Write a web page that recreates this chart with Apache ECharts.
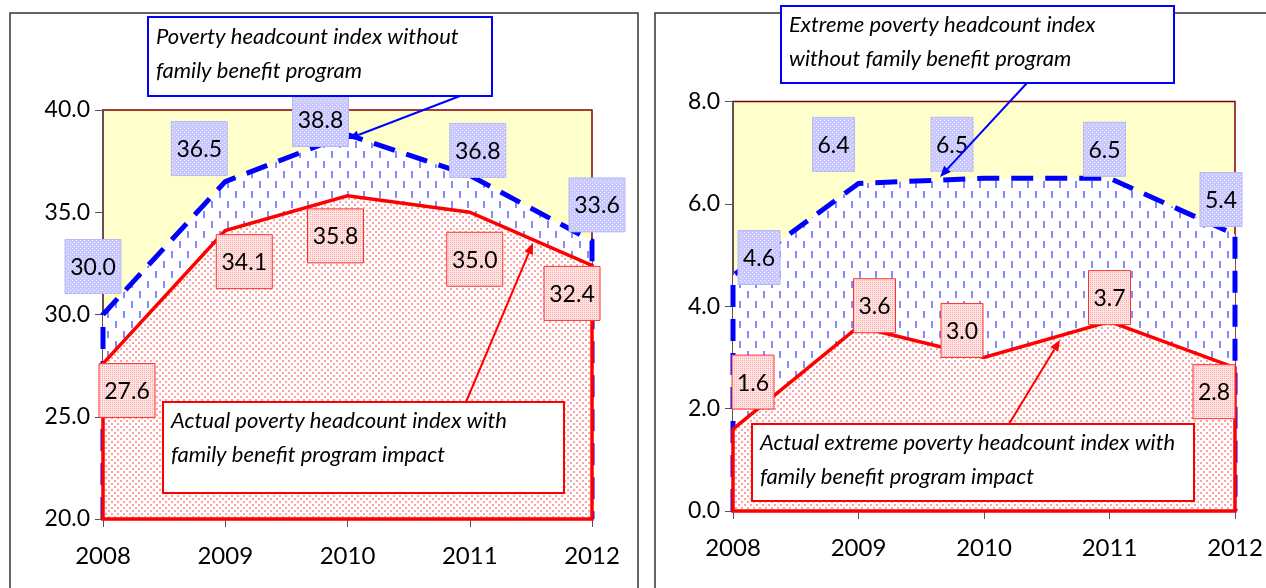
<!DOCTYPE html>
<html>
<head>
<meta charset="utf-8">
<script src="https://cdn.jsdelivr.net/npm/echarts@6/dist/echarts.min.js"></script>
<style>
  html, body { margin: 0; padding: 0; background: #fff; }
  #chart { width: 1266px; height: 588px; }
</style>
</head>
<body>
<div id="chart"></div>
<script>
  const years = ['2008', '2009', '2010', '2011', '2012']
  // poverty headcount index (left)
  const povertyWithout = [30.0, 36.5, 38.8, 36.8, 33.6]
  const povertyActual = [27.6, 34.1, 35.8, 35.0, 32.4]
  // extreme poverty headcount index (right)
  const extremeWithout = [4.6, 6.4, 6.5, 6.5, 5.4]
  const extremeActual = [1.6, 3.6, 3.0, 3.7, 2.8]

  // hand-placed label boxes, offset from the point in px
  const povWithoutOff = [[-10, -48], [-26, -33], [-27, -15], [8, -25], [5, -36]]
  const povActualOff = [[24, 27], [19, 31], [-12, 40], [5, 47], [-20, 28]]
  const extWithoutOff = [[26, -18], [-25, -39], [-32, -34], [-5, -29], [-14, -35]]
  const extActualOff = [[20, -47], [16, -21], [-22, -27], [0, -24], [-21, 24]]

  const yMin = [20, 0]

  function tile(w, h, bg, draw) {
    const c = document.createElement('canvas')
    c.width = w
    c.height = h
    const g = c.getContext('2d')
    g.fillStyle = bg
    g.fillRect(0, 0, w, h)
    draw(g)
    return { image: c, repeat: 'repeat' }
  }

  const blueFill = tile(16, 20, '#ffffff', g => {
    g.fillStyle = '#8a8aff'
    g.fillRect(3, 1, 2, 7)
    g.fillRect(11, 11, 2, 7)
  })
  const redFill = tile(6, 6, '#ffffff', g => {
    g.fillStyle = '#ffa0a0'
    g.fillRect(0, 0, 2, 2)
    g.fillRect(3, 3, 2, 2)
  })
  const blueBox = tile(4, 4, '#c8c8ff', g => {
    g.fillStyle = '#f4f4ff'
    g.fillRect(0, 0, 1, 1)
    g.fillRect(2, 2, 1, 1)
  })
  const redBox = tile(2, 2, '#ffe4e4', g => {
    g.fillStyle = '#ffa8a8'
    g.fillRect(0, 0, 1, 1)
  })

  // filled area down to the axis min, outlined on top and both sides
  function areaSeries(k, vals, fill, stroke, dash, width, closeBottom) {
    return {
      type: 'custom',
      xAxisIndex: k,
      yAxisIndex: k,
      silent: true,
      clip: false,
      data: vals.map((v, i) => [i, v]),
      renderItem(params, api) {
        if (params.dataIndex !== 0) return null
        const pts = [api.coord([0, yMin[k]])]
        vals.forEach((v, i) => pts.push(api.coord([i, v])))
        pts.push(api.coord([vals.length - 1, yMin[k]]))
        return {
          type: 'group',
          children: [
            { type: 'polygon', shape: { points: pts }, style: { fill: fill } },
            { type: closeBottom ? 'polygon' : 'polyline', shape: { points: pts },
              style: { fill: 'none', stroke: stroke, lineWidth: width, lineDash: dash, lineJoin: 'miter' } }
          ]
        }
      }
    }
  }

  function labelSeries(k, vals, off, bg, border) {
    return {
      type: 'custom',
      xAxisIndex: k,
      yAxisIndex: k,
      silent: true,
      clip: false,
      z: 10,
      data: vals.map((v, i) => [i, v]),
      renderItem(params, api) {
        const i = params.dataIndex
        const p = api.coord([api.value(0), api.value(1)])
        const txt = api.value(1).toFixed(1)
        const w = txt.length * 14
        const h = 54
        const cx = p[0] + off[i][0]
        const cy = p[1] + off[i][1]
        return {
          type: 'group',
          children: [
            { type: 'rect', shape: { x: cx - w / 2, y: cy - h / 2, width: w, height: h },
              style: { fill: bg, stroke: border, lineWidth: 1 } },
            { type: 'text', style: { x: cx, y: cy + 1, text: txt, align: 'center', verticalAlign: 'middle',
              font: '23px Lato', fill: '#000' } }
          ]
        }
      }
    }
  }

  function arrow(x1, y1, x2, y2, color) {
    const a = Math.atan2(y2 - y1, x2 - x1)
    const L = 11, W = 4.5
    const bx = x2 - L * Math.cos(a), by = y2 - L * Math.sin(a)
    return [
      { type: 'line', z: 100, shape: { x1: x1, y1: y1, x2: bx, y2: by }, style: { stroke: color, lineWidth: 2 } },
      { type: 'polygon', z: 100, shape: { points: [[x2, y2],
          [bx + W * Math.sin(a), by - W * Math.cos(a)], [bx - W * Math.sin(a), by + W * Math.cos(a)]] },
        style: { fill: color } }
    ]
  }

  function callout(x, y, w, h, color, text, ty) {
    return [
      { type: 'rect', z: 100, shape: { x: x, y: y, width: w, height: h },
        style: { fill: '#fff', stroke: color, lineWidth: 2 } },
      { type: 'text', z: 101, x: x + 8, y: ty,
        style: { text: text, font: 'italic 22px Lato', fill: '#000', lineHeight: 34 } }
    ]
  }

  function xAxis(k) {
    return {
      type: 'category',
      gridIndex: k,
      data: years,
      boundaryGap: false,
      axisLine: { lineStyle: { color: '#555', width: 1.5 } },
      axisTick: { show: true, length: 8, lineStyle: { color: '#555' } },
      axisLabel: { interval: 0, fontSize: 24, fontFamily: 'Lato', color: '#000', margin: 25 }
    }
  }

  function yAxis(k, min, max, step) {
    return {
      type: 'value',
      gridIndex: k,
      min: min,
      max: max,
      interval: step,
      axisLine: { show: true, lineStyle: { color: '#555', width: 1.5 } },
      axisTick: { show: true, length: 8, lineStyle: { color: '#555' } },
      splitLine: { show: false },
      axisLabel: { fontSize: 23, fontFamily: 'Lato', color: '#000', margin: 13,
        formatter: v => v.toFixed(1) }
    }
  }

  const chart = echarts.init(document.getElementById('chart'))
  chart.setOption({
    animation: false,
    grid: [
      { left: 103, top: 110, width: 489, height: 409, show: true,
        backgroundColor: '#ffffcc', borderColor: '#800000', borderWidth: 1.5 },
      { left: 733, top: 101.5, width: 502, height: 409.5, show: true,
        backgroundColor: '#ffffcc', borderColor: '#800000', borderWidth: 1.5 }
    ],
    xAxis: [xAxis(0), xAxis(1)],
    yAxis: [yAxis(0, 20, 40, 5), yAxis(1, 0, 8, 2)],
    graphic: [
      { type: 'rect', shape: { x: 10, y: 13, width: 628, height: 600 },
        style: { fill: 'none', stroke: '#333', lineWidth: 1.5 } },
      { type: 'rect', shape: { x: 655, y: 13, width: 700, height: 600 },
        style: { fill: 'none', stroke: '#333', lineWidth: 1.5 } },
      ...callout(148, 17, 344, 79, '#0000ff', 'Poverty headcount index without\nfamily benefit program', 20),
      ...arrow(460, 96, 348, 139, '#0000ff'),
      ...callout(163, 402, 401, 91, '#ff0000', 'Actual poverty headcount index with\nfamily benefit program impact', 404),
      ...arrow(466, 402, 533, 243, '#ff0000'),
      ...callout(781, 6, 393, 77, '#0000ff', 'Extreme poverty headcount index\nwithout family benefit program', 8),
      ...arrow(1027, 83, 940, 177, '#0000ff'),
      ...callout(752, 424, 442, 77, '#ff0000', 'Actual extreme poverty headcount index with\nfamily benefit program impact', 426),
      ...arrow(1009, 424, 1060, 340, '#ff0000')
    ],
    series: [
      areaSeries(0, povertyWithout, blueFill, '#0000ff', [22, 12], 5, false),
      areaSeries(0, povertyActual, redFill, '#ff0000', null, 3.5, true),
      labelSeries(0, povertyWithout, povWithoutOff, blueBox, '#b8b8f4'),
      labelSeries(0, povertyActual, povActualOff, redBox, '#ff3030'),
      areaSeries(1, extremeWithout, blueFill, '#0000ff', [22, 12], 5, false),
      areaSeries(1, extremeActual, redFill, '#ff0000', null, 3.5, true),
      labelSeries(1, extremeWithout, extWithoutOff, blueBox, '#b8b8f4'),
      labelSeries(1, extremeActual, extActualOff, redBox, '#ff3030')
    ]
  })
</script>
</body>
</html>
